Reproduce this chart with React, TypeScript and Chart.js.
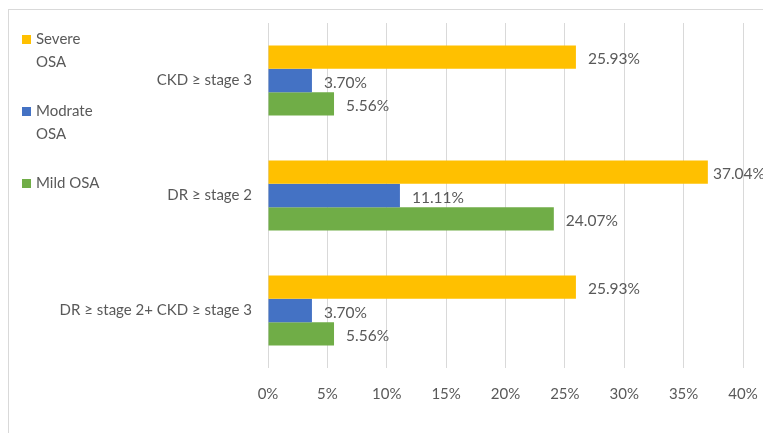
import React, { useEffect, useRef } from "react";
import { Chart, registerables } from "chart.js";

Chart.register(...registerables);

const categories = ["CKD ≥ stage 3", "DR ≥ stage 2", "DR ≥ stage 2+ CKD ≥ stage 3"];
const seriesNames = ["Severe OSA", "Modrate OSA", "Mild OSA"];
const severeOSA = [25.93, 37.04, 25.93];
const moderateOSA = [3.7, 11.11, 3.7];
const mildOSA = [5.56, 24.07, 5.56];
const seriesColors = ["#FFC000", "#4472C4", "#70AD47"];

const FONT = "Lato, 'Open Sans', sans-serif";
const TEXT = "#595959";

// Draws the percentage next to the end of every bar
const valueLabels = {
  id: "valueLabels",
  afterDatasetsDraw(chart: any) {
    const ctx = chart.ctx;
    ctx.save();
    ctx.font = `15.5px ${FONT}`;
    ctx.fillStyle = TEXT;
    ctx.textBaseline = "middle";
    ctx.textAlign = "left";
    chart.data.datasets.forEach((ds: any, i: number) => {
      const meta = chart.getDatasetMeta(i);
      meta.data.forEach((bar: any, j: number) => {
        const text = ds.data[j].toFixed(2) + "%";
        const w = ctx.measureText(text).width;
        const x = Math.min(bar.x + 12, Math.max(bar.x + 5, chart.width - w + 2));
        ctx.fillText(text, x, bar.y + 2);
      });
    });
    ctx.restore();
  },
};

// Legend stacked in the top-left corner, long names wrapped
const sideLegend = {
  id: "sideLegend",
  afterDraw(chart: any) {
    const ctx = chart.ctx;
    ctx.save();
    ctx.font = `15px ${FONT}`;
    ctx.textBaseline = "middle";
    ctx.textAlign = "left";
    const maxW = 70;
    chart.data.datasets.forEach((ds: any, i: number) => {
      const y0 = 39 + i * 72;
      ctx.fillStyle = ds.backgroundColor;
      ctx.fillRect(22, y0 - 4, 9, 9);
      const words = String(ds.label).split(" ");
      const lines: string[] = [];
      let cur = "";
      words.forEach((wd) => {
        const t = cur ? cur + " " + wd : wd;
        if (cur && ctx.measureText(t).width > maxW) {
          lines.push(cur);
          cur = wd;
        } else cur = t;
      });
      if (cur) lines.push(cur);
      ctx.fillStyle = TEXT;
      lines.forEach((ln, k) => ctx.fillText(ln, 36, y0 + k * 23));
    });
    ctx.restore();
  },
};

export default function App() {
  const ref = useRef<HTMLCanvasElement>(null);

  useEffect(() => {
    const values = [severeOSA, moderateOSA, mildOSA];
    const chart = new Chart(ref.current!, {
      type: "bar",
      data: {
        labels: categories,
        datasets: seriesNames.map((name, i) => ({
          label: name,
          data: values[i],
          backgroundColor: seriesColors[i],
          borderWidth: 0,
          barPercentage: 1,
          categoryPercentage: 0.61,
        })),
      },
      options: {
        indexAxis: "y",
        responsive: false,
        animation: false,
        layout: { padding: { left: 0, top: 23, right: 20, bottom: 0 } },
        plugins: {
          legend: { display: false },
          tooltip: { enabled: false },
        },
        scales: {
          x: {
            min: 0,
            max: 40,
            ticks: {
              stepSize: 5,
              padding: 17,
              color: TEXT,
              font: { family: FONT, size: 15 },
              callback: (v: any) => v + "%",
            },
            grid: { color: "#D9D9D9", lineWidth: 1, drawTicks: false },
            border: { display: false },
            afterFit: (s: any) => {
              s.height = 65;
              s.paddingLeft = 0;
              s.paddingRight = 0;
            },
          },
          y: {
            ticks: {
              padding: 16,
              color: TEXT,
              font: { family: FONT, size: 15 },
            },
            grid: { display: false, drawTicks: false },
            border: { display: false },
            afterFit: (s: any) => {
              s.width = 268;
              s.paddingTop = 0;
              s.paddingBottom = 0;
            },
          },
        },
      },
      plugins: [valueLabels, sideLegend],
    });
    return () => chart.destroy();
  }, []);

  return (
    <div style={{ position: "fixed", left: 0, top: 0, width: 763, height: 433, overflow: "hidden", background: "#fff" }}>
      <div
        style={{
          position: "absolute",
          left: 8,
          top: 9,
          width: 800,
          height: 500,
          border: "1px solid #D9D9D9",
          boxSizing: "border-box",
        }}
      />
      <canvas ref={ref} width={763} height={433} style={{ position: "absolute", left: 0, top: 0 }} />
    </div>
  );
}
